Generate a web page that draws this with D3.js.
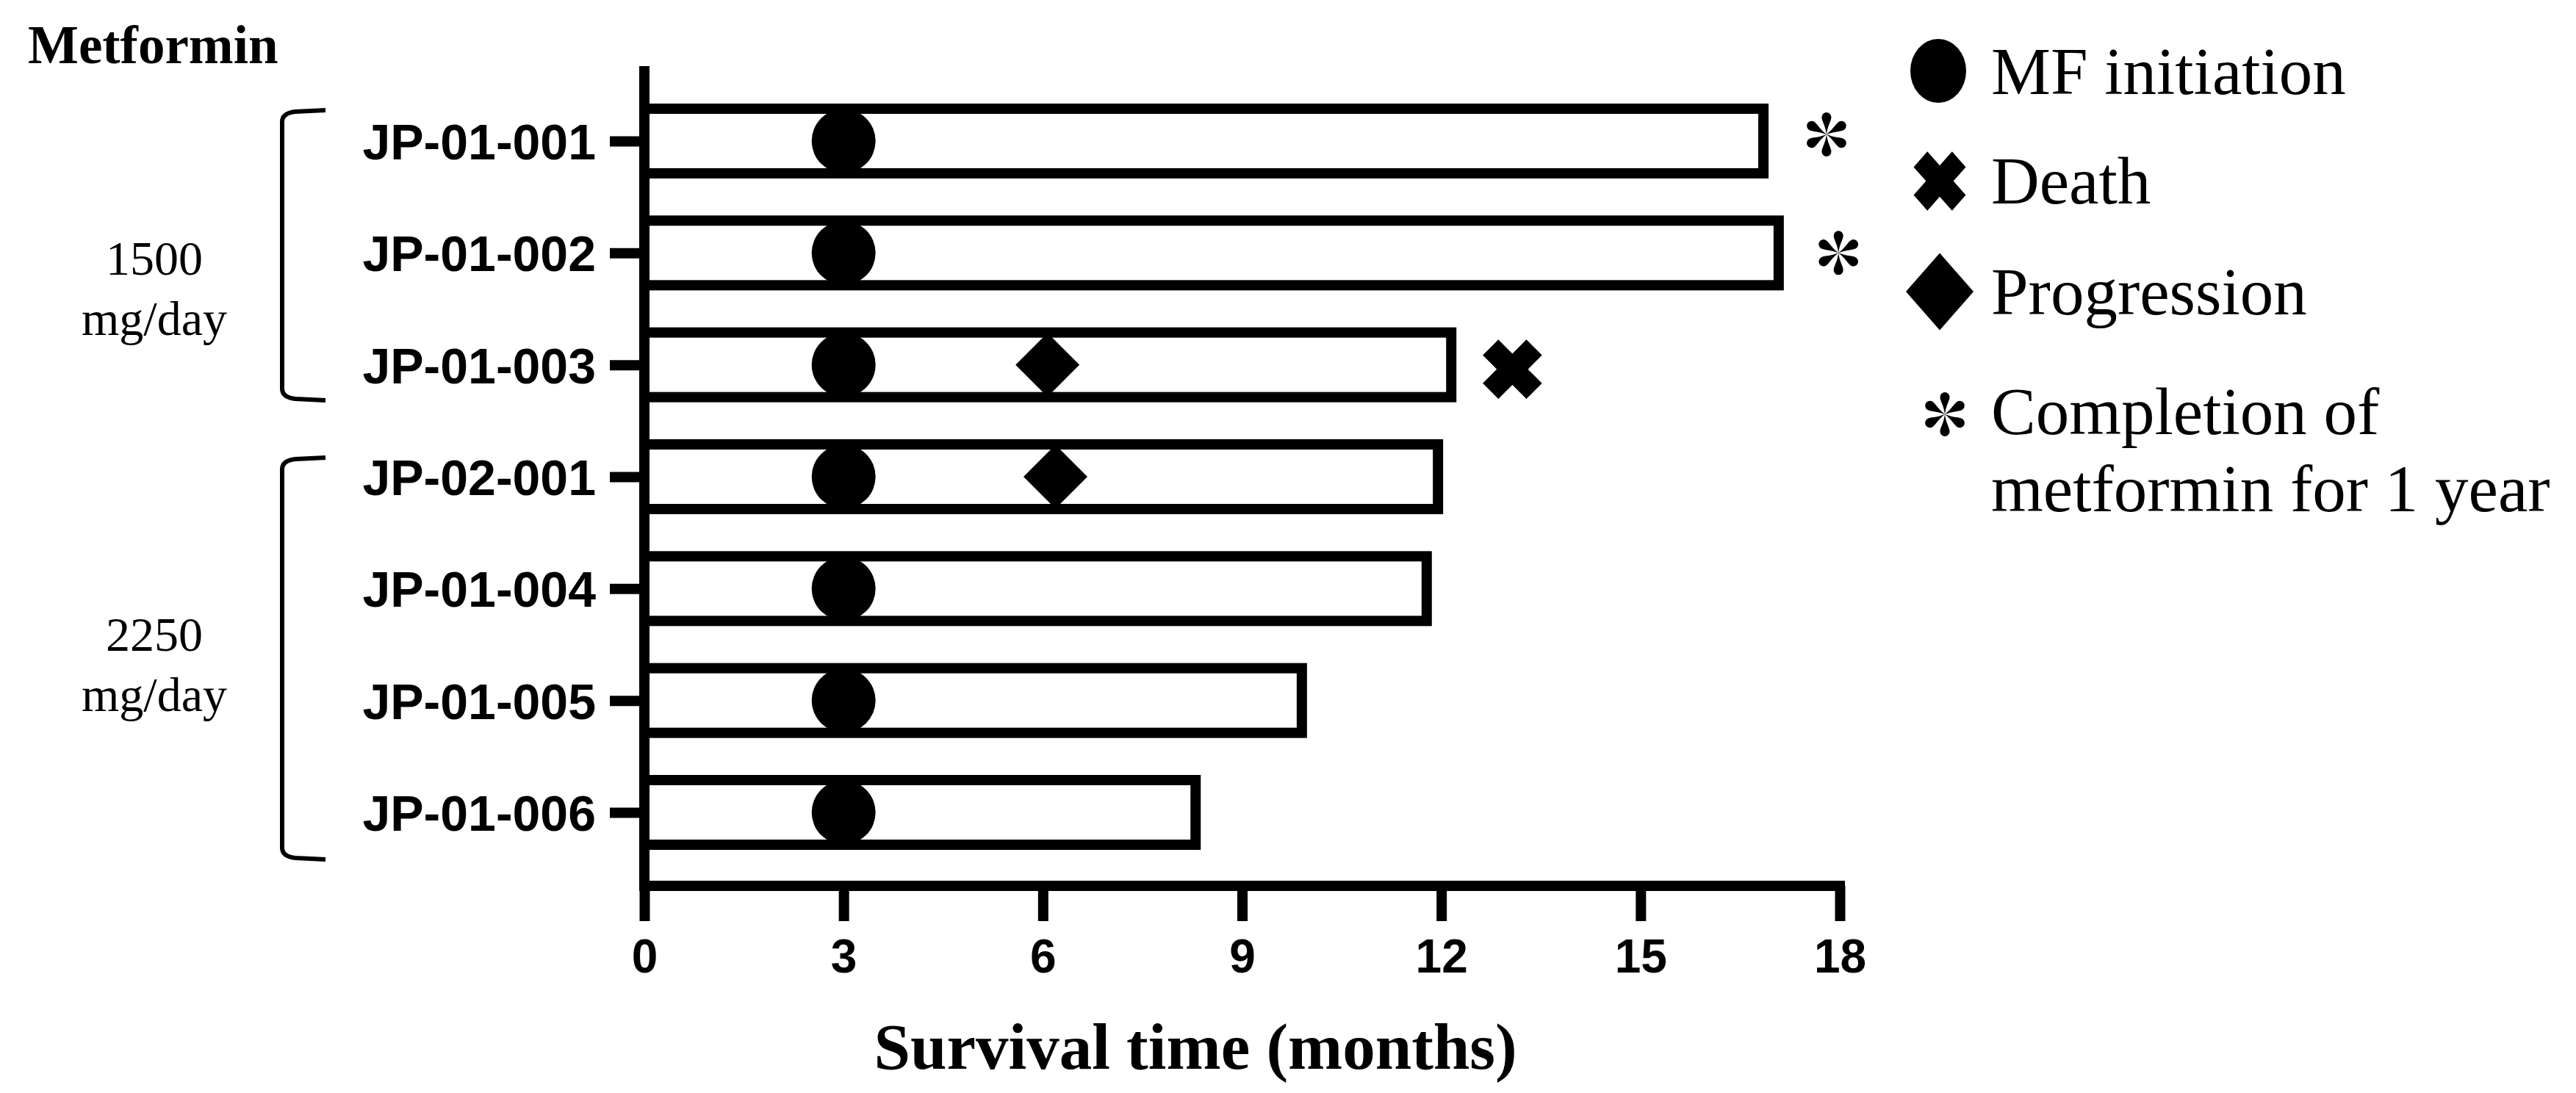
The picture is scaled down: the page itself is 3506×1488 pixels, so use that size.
<!DOCTYPE html>
<html>
<head>
<meta charset="utf-8">
<script src="https://cdn.jsdelivr.net/npm/d3@7"></script>
<style>
  body { margin: 0; background: #fff; }
  svg { display: block; }
</style>
</head>
<body>
<svg width="3506" height="1488"></svg>
<script>
// patients, top to bottom
const patients = ["JP-01-001", "JP-01-002", "JP-01-003", "JP-02-001", "JP-01-004", "JP-01-005", "JP-01-006"];
// survival time (months)
const survival = [16.85, 17.08, 12.15, 11.95, 11.78, 9.9, 8.3];
// metformin initiation (months)
const mfStart = [3, 3, 3, 3, 3, 3, 3];
// progression events
const progression = [{id: "JP-01-003", t: 6.07}, {id: "JP-02-001", t: 6.19}];
// death events
const death = [{id: "JP-01-003", t: 13.07}];
// completion of metformin for 1 year
const completion = [{id: "JP-01-001", t: 17.8}, {id: "JP-01-002", t: 17.98}];
// dose groups
const doseGroups = [["1500", "mg/day"], ["2250", "mg/day"]];
const xTicks = [0, 3, 6, 9, 12, 15, 18];
const legendItems = ["MF initiation", "Death", "Progression", "Completion of|metformin for 1 year"];

const svg = d3.select("svg");
const serif = "'Liberation Serif', 'Times New Roman', serif";
const sans = "'Liberation Sans', Arial, sans-serif";
const lw = 14;

const x = d3.scaleLinear().domain([0, 18]).range([877, 2504]);
const y = d3.scalePoint().domain(patients).range([192, 1106]);
const barH = 88;

// shapes
function crossPath(L, w) {
    const pts = [[w,-L],[w,-w],[L,-w],[L,w],[w,w],[w,L],[-w,L],[-w,w],[-L,w],[-L,-w],[-w,-w],[-w,-L]];
    const c = Math.SQRT1_2;
    return "M" + pts.map(([a, b]) => [(a - b) * c, (a + b) * c].join(",")).join("L") + "Z";
}
function asteriskPath(len, r) {
    let p = "";
    for (let k = 0; k < 6; k++) {
        const a = k * Math.PI / 3;
        const rot = (px, py) => [px * Math.cos(a) - py * Math.sin(a), px * Math.sin(a) + py * Math.cos(a)];
        const P = (px, py) => rot(px, py).map(v => v.toFixed(2)).join(",");
        p += "M" + P(0, 0)
            + "C" + P(-r * 0.3, -len * 0.45) + " " + P(-r, -len + r * 1.8) + " " + P(-r, -len + r)
            + "A" + r + "," + r + " 0 0 1 " + P(r, -len + r)
            + "C" + P(r, -len + r * 1.8) + " " + P(r * 0.3, -len * 0.45) + " " + P(0, 0) + "Z";
    }
    return p;
}
const diamond = (w, h) => `M0,${-h/2}L${w/2},0L0,${h/2}L${-w/2},0Z`;

// title
svg.append("text").attr("x", 38).attr("y", 86)
    .attr("font-family", serif).attr("font-weight", "bold").attr("font-size", 73)
    .text("Metformin");

// markers under the bars
svg.selectAll(".mf").data(patients).join("circle")
    .attr("cx", (d, i) => x(mfStart[i])).attr("cy", d => y(d)).attr("r", 43.5).attr("fill", "#000");

svg.selectAll(".prog").data(progression).join("path")
    .attr("d", diamond(87, 87))
    .attr("transform", d => `translate(${x(d.t)},${y(d.id)})`).attr("fill", "#000");

// bars
svg.selectAll(".bar").data(patients).join("rect")
    .attr("x", x(0)).attr("y", d => y(d) - barH / 2)
    .attr("width", (d, i) => x(survival[i]) - x(0)).attr("height", barH)
    .attr("fill", "none").attr("stroke", "#000").attr("stroke-width", lw);

svg.selectAll(".death").data(death).join("path")
    .attr("d", crossPath(42, 15))
    .attr("transform", d => `translate(${x(d.t)},${y(d.id) + 6})`).attr("fill", "#000");

svg.selectAll(".done").data(completion).join("path")
    .attr("d", asteriskPath(30, 6.5))
    .attr("transform", (d, i) => `translate(${x(d.t)},${y(d.id) - (i === 0 ? 9 : 0)})`).attr("fill", "#000");

// axes
const xAxis = svg.append("g").attr("transform", "translate(0,1206)")
    .call(d3.axisBottom(x).tickValues(xTicks).tickSize(48).tickPadding(24).tickSizeOuter(0));
xAxis.select(".domain").attr("stroke-width", lw).attr("d", `M${x(0) - lw/2},0H${x(18) + lw/2}`);
xAxis.selectAll(".tick line").attr("stroke-width", lw);
xAxis.selectAll(".tick text").attr("font-family", sans).attr("font-weight", "bold")
    .attr("font-size", 64).attr("fill", "#000").attr("dy", "0.72em");

const yAxis = svg.append("g").attr("transform", `translate(${x(0)},0)`)
    .call(d3.axisLeft(y).tickSize(47).tickPadding(19).tickSizeOuter(0));
yAxis.select(".domain").attr("stroke-width", lw).attr("d", `M0,90V${1206 + lw/2}`);
yAxis.selectAll(".tick line").attr("stroke-width", lw);
yAxis.selectAll(".tick text").attr("font-family", sans).attr("font-weight", "bold")
    .attr("font-size", 68).attr("fill", "#000").attr("dy", "0.36em");

svg.append("text").attr("x", 1627).attr("y", 1455).attr("text-anchor", "middle")
    .attr("font-family", serif).attr("font-weight", "bold").attr("font-size", 89)
    .text("Survival time (months)");

// dose brackets
const brackets = [{top: 150, bot: 545, base: 374}, {top: 623, bot: 1170, base: 886}];
brackets.forEach((b, i) => {
    svg.append("path")
        .attr("d", `M443,${b.top}L402,${b.top + 2}Q384,${b.top + 4} 384,${b.top + 16}L384,${b.bot - 16}Q384,${b.bot - 4} 402,${b.bot - 2}L443,${b.bot}`)
        .attr("fill", "none").attr("stroke", "#000").attr("stroke-width", 6);
    svg.append("text").attr("x", 210).attr("y", b.base).attr("text-anchor", "middle")
        .attr("font-family", serif).attr("font-size", 66)
        .selectAll("tspan").data(doseGroups[i]).join("tspan")
        .attr("x", 210).attr("dy", (d, j) => j ? 82 : 0).text(d => d);
});

// legend
const leg = svg.append("g");
leg.append("ellipse").attr("cx", 2638).attr("cy", 96.5).attr("rx", 38).attr("ry", 43.5);
leg.append("path").attr("d", crossPath(42, 15)).attr("transform", "translate(2640,246.5) scale(0.88,1)");
leg.append("path").attr("d", diamond(92, 105)).attr("transform", "translate(2640,397)");
leg.append("path").attr("d", asteriskPath(30, 6.5)).attr("transform", "translate(2647,564)");
const legBase = [128, 277, 428, 591];
legendItems.forEach((t, i) => {
    leg.append("text").attr("x", 2710).attr("y", legBase[i])
        .attr("font-family", serif).attr("font-size", 91)
        .selectAll("tspan").data(t.split("|")).join("tspan")
        .attr("x", 2710).attr("dy", (d, j) => j ? 105 : 0).text(d => d);
});
</script>
</body>
</html>
